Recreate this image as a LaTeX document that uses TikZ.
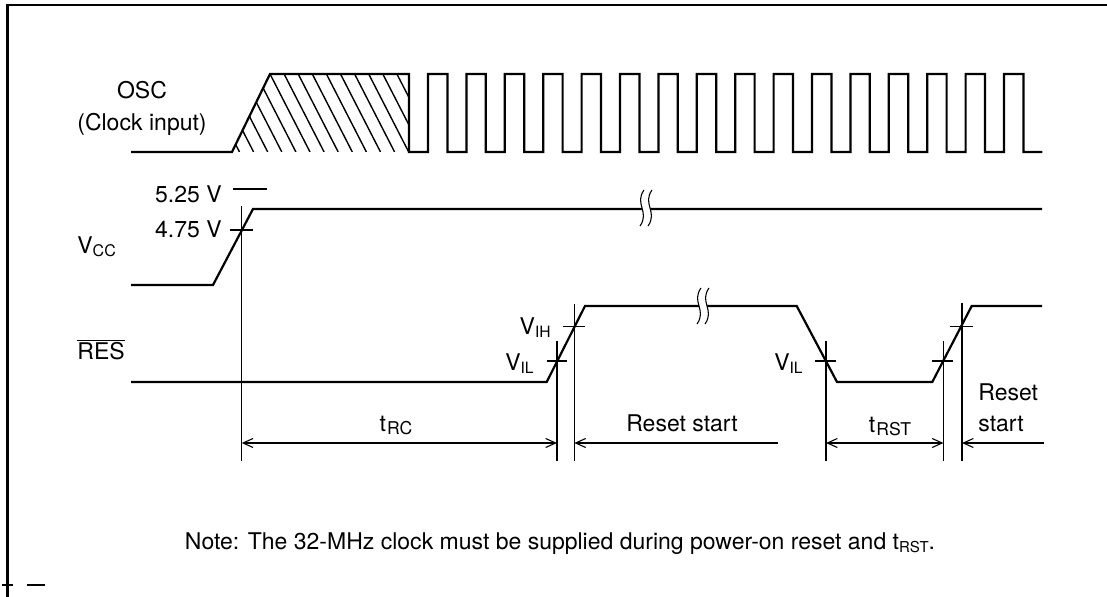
\documentclass[tikz,border=0pt]{standalone}
\usepackage{fontspec}
\setmainfont{TeX Gyre Heros}
\usetikzlibrary{arrows.meta,positioning}
\newcommand\sigsub[2][8.8]{\raisebox{-0.2ex}{\fontsize{#1}{#1}\selectfont #2}}

\begin{document}
\begin{tikzpicture}[x=0.5pt,y=-0.5pt,font=\fontsize{11.5}{13}\selectfont,
  >={Straight Barb[length=5pt,width=4.5pt]},
  sig/.style={line width=1.1pt},
  fine/.style={line width=0.55pt},
  dimline/.style={fine,<->},
  lbl/.style={inner sep=0pt},
  brk/.pic={
    \fill[white] (-2,-18) .. controls (-12,-4) and (4,4) .. (-6,18) -- (2,18)
      .. controls (12,4) and (-4,-4) .. (6,-18) -- cycle;
    \draw[fine] (-2,-18) .. controls (-12,-4) and (4,4) .. (-6,18);
    \draw[fine] (6,-18) .. controls (-4,-4) and (12,4) .. (2,18);}]
  \useasboundingbox (0,0) rectangle (1107,597);
  \draw[line width=1.2pt] (7.5,597) -- (7.5,5) -- (1107,5);
  \draw[fine] (2,585) -- (13,585) (27,585) -- (45,585);

  % signal labels
  \node[lbl,anchor=base] (osc) at (142,99) {OSC};
  \node[lbl,anchor=base] (clk) at (142,131) {(Clock input)};
  \node[lbl,anchor=base west] (vcc) at (77,254) {V\sigsub[8]{CC}};
  \node[lbl,anchor=base west] (res) at (77,360) {$\overline{\mbox{RES}}$};
  \node[lbl,anchor=base east] (v525) at (222,203) {5.25 V};
  \node[lbl,anchor=base east] (v475) at (222,238) {4.75 V};
  \node[lbl,anchor=base east] (vih) at (551,335) {V\sigsub[7.8]{IH}};
  \node[lbl,anchor=base east] (vil1) at (534,371) {V\sigsub[7.8]{IL}};
  \node[lbl,anchor=base east] (vil2) at (803,371) {V\sigsub[7.8]{IL}};

  % OSC
  \begin{scope}
    \clip (232,152) -- (270,74) -- (409,74) -- (409,152) -- cycle;
    \foreach \k in {-6,...,10} \draw[line width=0.7pt] (270+14.1*\k,74) -- ++(40,78);
  \end{scope}
  \draw[sig] (131,152) -- (232,152) -- (270,74) -- (409,74) -- (409,152) -- (428,152)
    \foreach \k in {1,...,16}{ -- ++(0,-78) -- ++(19.4,0) -- ++(0,78) -- ++(19,0)};

  % Vcc
  \draw[sig] (131,285) -- (213,285) -- (253,209) -- (1042,209);
  \pic at (646,208) {brk};
  \draw[fine] (233,189) -- (267,189);
  \draw[fine] (230,230) -- (253,230);

  % RES
  \draw[sig] (131,382) -- (546.7,382) -- (585,306) -- (796.7,306) -- (837,382)
    -- (932.3,382) -- (971.7,306) -- (1042,306);
  \pic at (703,306) {brk};
  \draw[fine] (547,361) -- (567,361) (563,326.7) -- (585,326.7)
    (815,361) -- (836,361) (932,361) -- (953,361) (950,326.7) -- (973,326.7);

  % extension lines
  \coordinate (e1) at (241.7,443); \coordinate (e2) at (557,443);
  \coordinate (e3) at (574.3,443); \coordinate (e4) at (826,443);
  \coordinate (e5) at (943.5,443); \coordinate (e6) at (962,443);
  \draw[fine] (241.7,206) -- (241.7,461) (557,341) -- (557,461) (574.3,304) -- (574.3,461)
    (826,341) -- (826,461) (943.5,341) -- (943.5,461) (962,303) -- (962,461);

  % timing
  \coordinate (rs1end) at (778,443); \coordinate (rs2end) at (1044,443);
  \draw[dimline] (e1) -- (e2);
  \draw[fine,->] (rs1end) -- (e3);
  \draw[dimline] (e4) -- (e5);
  \draw[fine,->] (rs2end) -- (e6);
  \node[lbl,anchor=base] (trc) at (396,432) {t\kern0.5pt\sigsub{RC}};
  \node[lbl,anchor=base] (rs1) at (682,432) {Reset start};
  \node[lbl,anchor=base] (trst) at (890,433) {t\kern0.5pt\sigsub{RST}};
  \node[lbl,anchor=base west] (rs2a) at (978,401) {Reset};
  \node[lbl,anchor=base west] (rs2b) at (978,432) {start};

  \node[lbl,anchor=base] (note) at (560,550)
    {Note: The 32-MHz clock must be supplied during power-on reset and t\sigsub[7.5]{RST}.};
\end{tikzpicture}
\end{document}
